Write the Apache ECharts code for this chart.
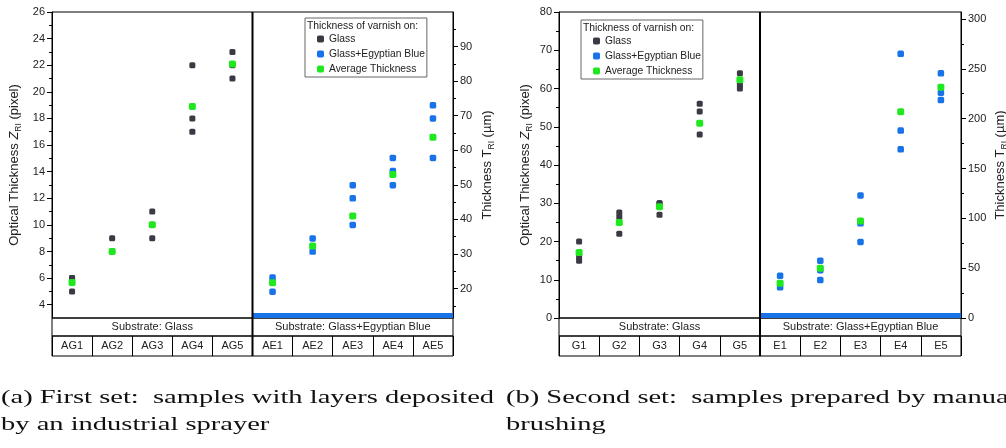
<!DOCTYPE html>
<html><head><meta charset="utf-8">
<script src="https://cdn.jsdelivr.net/npm/echarts@6/dist/echarts.min.js"></script>
<style>html,body{margin:0;padding:0;background:#fff}#c{width:1006px;height:448px}</style>
</head><body><div id="c"></div>
<script>
// ---------------- data ----------------
const catsA = ['AG1','AG2','AG3','AG4','AG5','AE1','AE2','AE3','AE4','AE5'];
const catsB = ['G1','G2','G3','G4','G5','E1','E2','E3','E4','E5'];
const substrates = ['Substrate: Glass','Substrate: Glass+Egyptian Blue'];
// (a) optical thickness Z_RI (pixel), glass substrate
const glassA = [[6,6,5],[9,8],[11,10,9],[22,18,17],[23,22,21]];
const glassAvgA = [5.67,8,10,18.9,22.1];
// (a) thickness T_RI (µm), glass + Egyptian Blue substrate
const blueA = [[23.2,19.1],[34.5,30.7],[49.9,46.1,38.4],[57.8,54,49.9],[73,69.2,57.8]];
const blueAvgA = [21.7,32.3,41,53,63.8];
// (b) optical thickness Z_RI (pixel), glass substrate
const glassB = [[20,16,15],[27.6,26.4,22],[30,30,27],[56,54,48],[64,61,60]];
const glassAvgB = [17.1,25,29.1,50.9,62.3];
// (b) thickness T_RI (µm), glass + Egyptian Blue substrate
const blueB = [[42.5,30.8],[57.5,48,38.1],[123,95,76.3],[265,188,169.3],[245.5,226,218.7]];
const blueAvgB = [34.8,49.9,97.3,207,231.5];
// axis ranges and tick labels
const zRangeA = [3,26], tRangeA = [11.5,100];
const zRangeB = [0,80], tRangeB = [0,307];
const zTicksA = [4,6,8,10,12,14,16,18,20,22,24,26];
const zMinorA = [5,7,9,11,13,15,17,19,21,23,25];
const tTicksA = [20,30,40,50,60,70,80,90];
const tMinorA = [15,25,35,45,55,65,75,85,95];
const zTicksB = [0,10,20,30,40,50,60,70,80];
const zMinorB = [5,15,25,35,45,55,65,75];
const tTicksB = [0,50,100,150,200,250,300];
const tMinorB = [25,75,125,175,225,275];
const seriesNames = ['Glass','Glass+Egyptian Blue','Average Thickness'];
const legendTitle = 'Thickness of varnish on:';
const captionA = '(a) First set:  samples with layers deposited\nby an industrial sprayer';
const captionB = '(b) Second set:  samples prepared by manual\nbrushing';

// ---------------- layout ----------------
const FONT = 'Liberation Sans';
const plotTop = 12, plotH = 306, subH = 18, catH = 20;
const colGlass = '#3b3a44', colBlue = '#1872e8', colGreen = '#1fe81f';
const panels = [
  {left:52, width:401, cats:catsA, z:zRangeA, t:tRangeA, zt:zTicksA, zm:zMinorA, tt:tTicksA, tm:tMinorA,
   glass:glassA, gAvg:glassAvgA, blue:blueA, bAvg:blueAvgA, gapL:29, gapR:25, legLeft:305, legTop:18},
  {left:559, width:402, cats:catsB, z:zRangeB, t:tRangeB, zt:zTicksB, zm:zMinorB, tt:tTicksB, tm:tMinorB,
   glass:glassB, gAvg:glassAvgB, blue:blueB, bAvg:blueAvgB, gapL:25, gapR:30, legLeft:581, legTop:20}
];

const grid = [], xAxis = [], yAxis = [], series = [], legend = [], title = [], graphic = [];
const nameStyle = {fontSize:13, fontFamily:FONT, color:'#222',
  rich:{i:{fontSize:13, fontFamily:FONT, fontStyle:'italic', color:'#222'},
        n:{fontSize:13, fontFamily:FONT, color:'#222'},
        sub:{fontSize:8.5, fontFamily:FONT, color:'#222', padding:[9,0,0,0]}}};

function yPair(gi, pos, range, majors, minors, name, gap){
  const base = {gridIndex:gi, type:'value', min:range[0], max:range[1], position:pos, splitLine:{show:false}};
  yAxis.push(Object.assign({}, base, {
    axisLine:{show:true, lineStyle:{color:'#000', width:1}},
    axisTick:{show:true, customValues:majors, length:5, lineStyle:{color:'#000'}},
    axisLabel:{show:true, customValues:majors, margin:7, fontSize:11, fontFamily:FONT, color:'#222'},
    name:name, nameLocation:'middle', nameRotate:90, nameGap:gap, nameTextStyle:nameStyle
  }));
  yAxis.push(Object.assign({}, base, {
    axisLine:{show:false},
    axisTick:{show:true, customValues:minors, length:3, lineStyle:{color:'#000'}},
    axisLabel:{show:false}
  }));
}

panels.forEach((p, k) => {
  const g0 = k*3, y0 = k*6;
  grid.push({left:p.left, top:plotTop, width:p.width, height:plotH, show:true, borderColor:'#000', borderWidth:1, backgroundColor:'transparent', outerBoundsMode:'none'});
  grid.push({left:p.left, top:plotTop+plotH, width:p.width, height:subH, show:true, borderColor:'#000', borderWidth:1, outerBoundsMode:'none'});
  grid.push({left:p.left, top:plotTop+plotH+subH, width:p.width, height:catH, show:true, borderColor:'#000', borderWidth:1, outerBoundsMode:'none'});
  xAxis.push({gridIndex:g0, type:'category', data:p.cats, boundaryGap:true, show:false});
  xAxis.push({gridIndex:g0+1, type:'category', data:substrates, boundaryGap:true, position:'bottom',
    axisLine:{show:false}, axisTick:{show:false}, splitLine:{show:false},
    axisLabel:{inside:true, margin:4, fontSize:11, fontFamily:FONT, color:'#222', interval:0}});
  xAxis.push({gridIndex:g0+2, type:'category', data:p.cats, boundaryGap:true, position:'bottom',
    axisLine:{show:false}, axisTick:{show:false},
    splitLine:{show:true, interval:0, lineStyle:{color:'#000', width:1}},
    axisLabel:{inside:true, margin:5, fontSize:11, fontFamily:FONT, color:'#222', interval:0}});
  yPair(g0, 'left', p.z, p.zt, p.zm, 'Optical Thickness {i|Z}{sub|RI}{n| (pixel)}', p.gapL);
  yPair(g0, 'right', p.t, p.tt, p.tm, 'Thickness {n|T}{sub|RI}{n| (µm)}', p.gapR);
  yAxis.push({gridIndex:g0+1, type:'value', show:false});
  yAxis.push({gridIndex:g0+2, type:'value', show:false});

  const gData = [], bData = [], gaData = [], baData = [];
  p.glass.forEach((vals, i) => vals.forEach(v => gData.push([p.cats[i], v])));
  p.gAvg.forEach((v, i) => gaData.push([p.cats[i], v]));
  p.blue.forEach((vals, i) => vals.forEach(v => bData.push([p.cats[5+i], v])));
  p.bAvg.forEach((v, i) => baData.push([p.cats[5+i], v]));
  const sc = (name, data, yi, color, size, z) => ({type:'scatter', name, data, xAxisIndex:g0, yAxisIndex:yi,
    symbol:'roundRect', symbolSize:size, itemStyle:{color, opacity:1}, z, silent:true, animation:false});
  series.push(sc(seriesNames[0], gData, y0, colGlass, 6, 2));
  series.push(sc(seriesNames[1], bData, y0+2, colBlue, 6.5, 2));
  series.push(sc(seriesNames[2], gaData, y0, colGreen, 7, 3));
  series.push(sc(seriesNames[2], baData, y0+2, colGreen, 7, 3));

  legend.push({data:seriesNames, orient:'vertical', left:p.legLeft, top:p.legTop,
    padding:[16,2,3,12], itemWidth:7, itemHeight:7, itemGap:5,
    borderColor:'#666', borderWidth:1, backgroundColor:'#fff', selectedMode:false,
    textStyle:{fontSize:10.3, fontFamily:FONT, color:'#222'}});
  title.push({text:legendTitle, left:p.legLeft+2, top:p.legTop+3, padding:0,
    textStyle:{fontSize:10.3, fontWeight:'normal', fontFamily:FONT, color:'#222'}});

  const mid = p.left + p.width/2;
  graphic.push({type:'rect', shape:{x:mid, y:plotTop+plotH-5, width:p.width/2, height:5}, style:{fill:colBlue}, z:10});
  graphic.push({type:'line', shape:{x1:mid, y1:plotTop, x2:mid, y2:plotTop+plotH+subH+catH}, style:{stroke:'#000', lineWidth:2}, z:11});
});

graphic.push({type:'text', x:1, y:385, scaleX:1.5, style:{text:captionA, font:'19px "Liberation Serif"', fill:'#111', lineHeight:27, verticalAlign:'top'}});
graphic.push({type:'text', x:506, y:385, scaleX:1.5, style:{text:captionB, font:'19px "Liberation Serif"', fill:'#111', lineHeight:27, verticalAlign:'top'}});

const chart = echarts.init(document.getElementById('c'), null, {renderer:'canvas'});
chart.setOption({backgroundColor:'#fff', animation:false, grid, xAxis, yAxis, series, legend, title, graphic});
</script></body></html>
